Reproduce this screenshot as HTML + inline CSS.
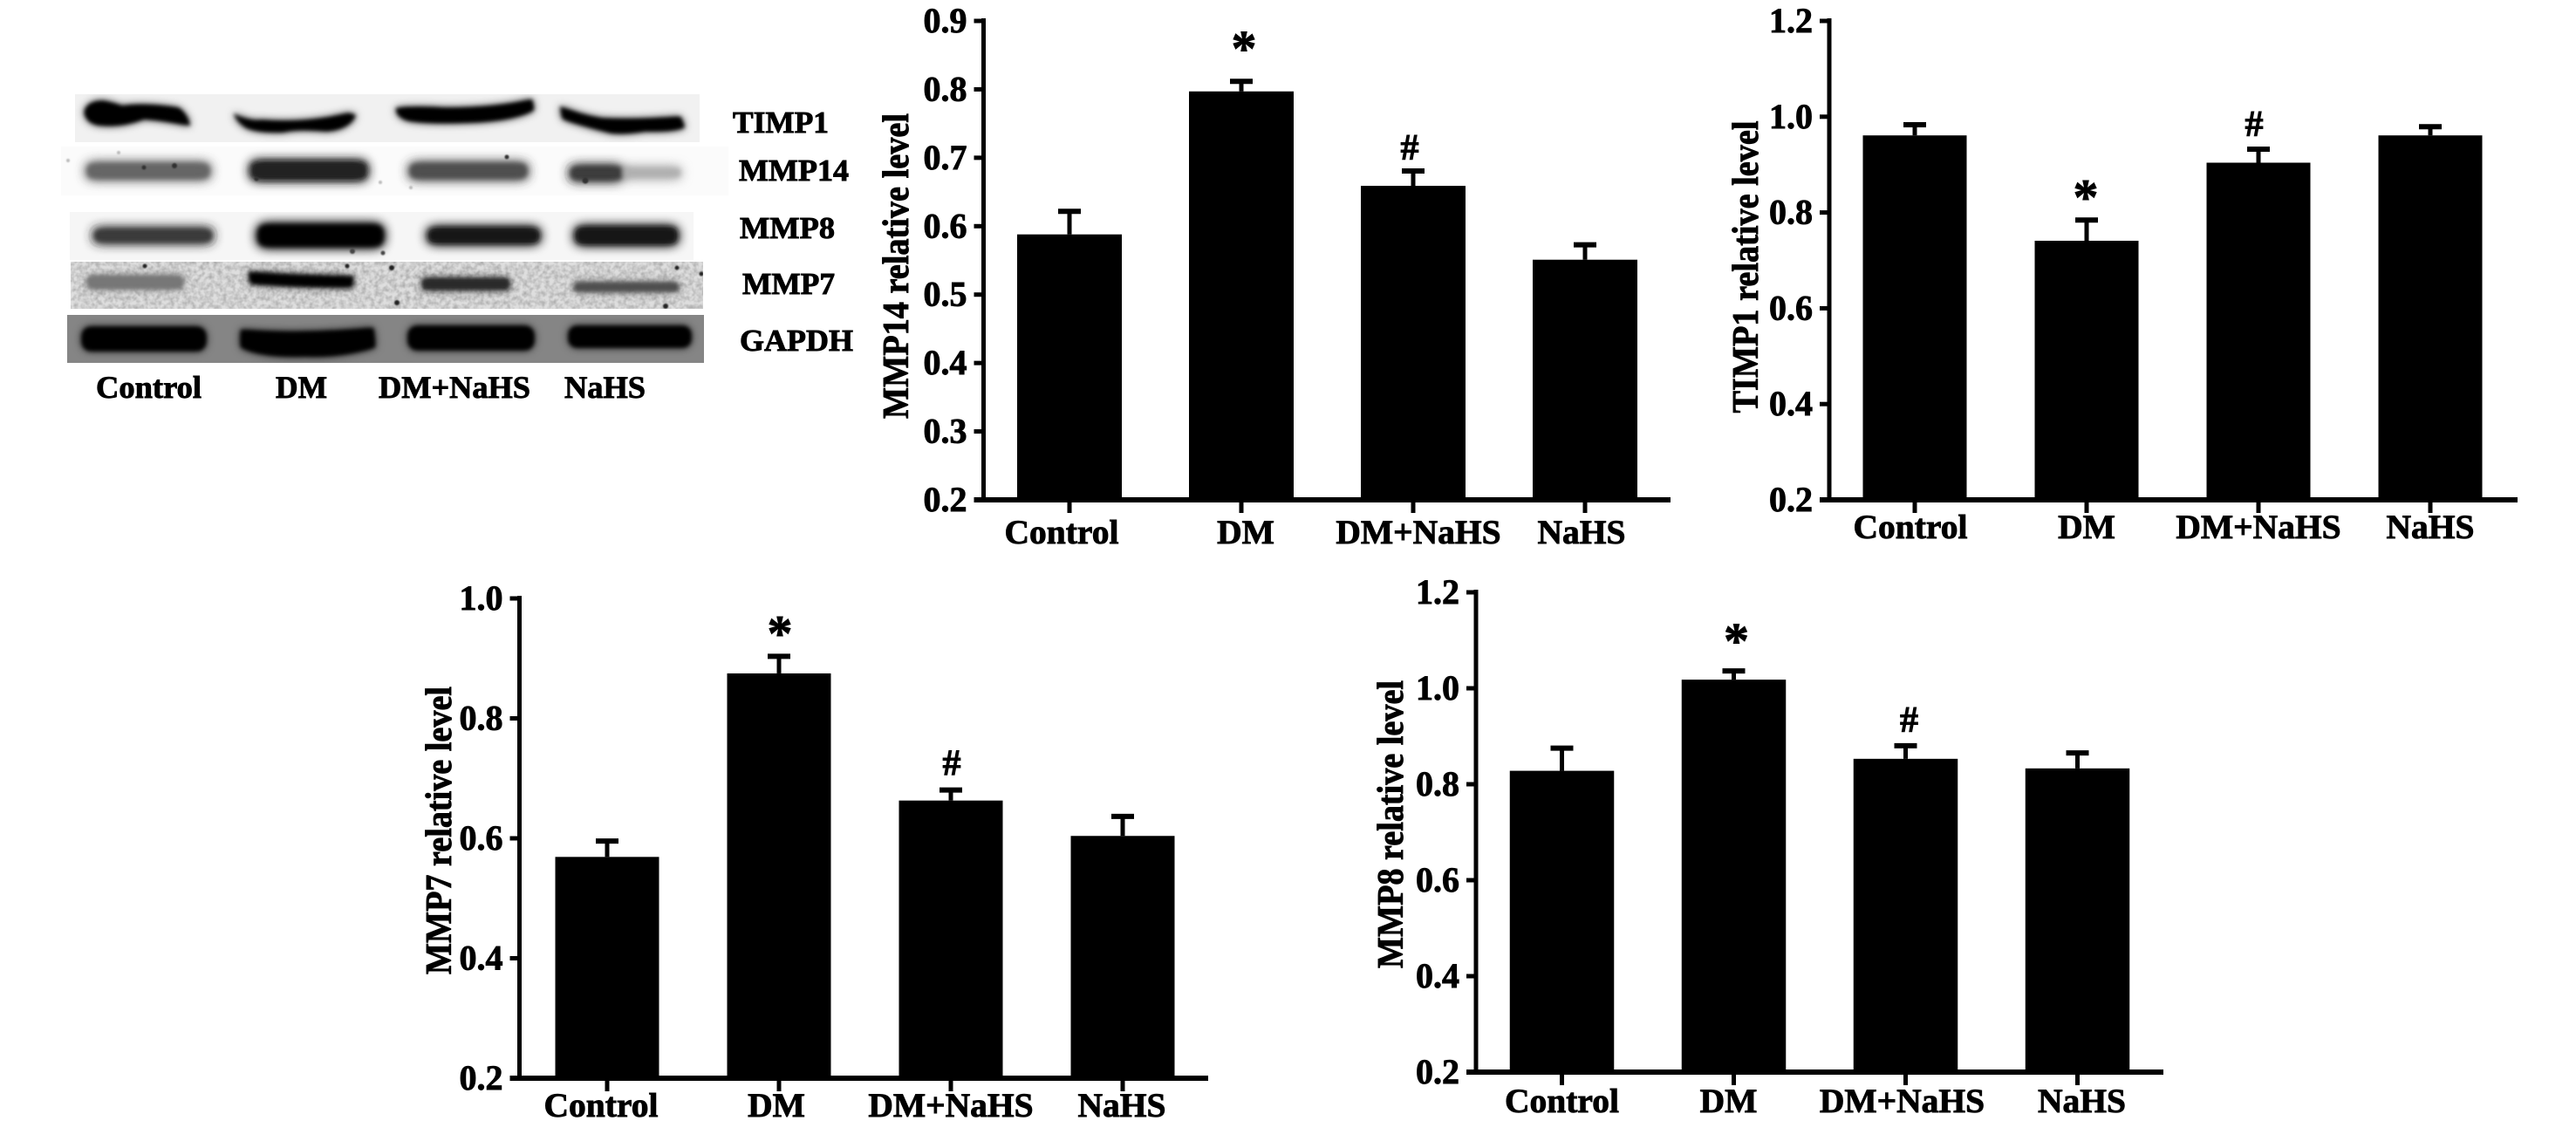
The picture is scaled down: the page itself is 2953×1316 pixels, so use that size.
<!DOCTYPE html>
<html lang="en">
<head>
<meta charset="utf-8">
<title>Western blot and relative protein levels</title>
<style>
html,body{margin:0;padding:0;background:#fff;}
svg{display:block;}
text{font-family:"Liberation Serif",serif;font-weight:bold;fill:#000;stroke:#000;stroke-width:0.9px;}
</style>
</head>
<body>
<svg id="figure" xmlns="http://www.w3.org/2000/svg" width="2953" height="1316" viewBox="0 0 2953 1316">
<defs>
<filter id="band" x="-20%" y="-100%" width="140%" height="300%">
<feGaussianBlur in="SourceGraphic" stdDeviation="7" result="wide"/>
<feGaussianBlur in="SourceGraphic" stdDeviation="3" result="tight"/>
<feMerge><feMergeNode in="wide"/><feMergeNode in="wide"/><feMergeNode in="tight"/></feMerge>
</filter>
<filter id="band-soft" x="-20%" y="-100%" width="140%" height="300%">
<feGaussianBlur in="SourceGraphic" stdDeviation="5" result="wide"/>
<feGaussianBlur in="SourceGraphic" stdDeviation="2.5" result="tight"/>
<feMerge><feMergeNode in="wide"/><feMergeNode in="tight"/></feMerge>
</filter>
<filter id="speck" x="-100%" y="-100%" width="300%" height="300%"><feGaussianBlur stdDeviation="0.9"/></filter>
<filter id="noise" x="0" y="0" width="100%" height="100%">
<feTurbulence type="fractalNoise" baseFrequency="0.2" numOctaves="2" seed="7"/>
<feColorMatrix type="matrix" values="0 0 0 0 0.4  0 0 0 0 0.4  0 0 0 0 0.4  0 0 0 1.7 -0.55"/>
</filter>
<clipPath id="clip-timp1"><rect x="86" y="108" width="716" height="55"/></clipPath>
<clipPath id="clip-mmp14"><rect x="70" y="168" width="765" height="56"/></clipPath>
<clipPath id="clip-mmp8"><rect x="80" y="243" width="715" height="55"/></clipPath>
<clipPath id="clip-mmp7"><rect x="81" y="300" width="725" height="54"/></clipPath>
<clipPath id="clip-gapdh"><rect x="77" y="361" width="730" height="55"/></clipPath>
</defs>

<g>
  <g clip-path="url(#clip-timp1)">
    <rect x="86" y="108" width="716" height="55" fill="#f1f1f1"/>
    <g filter="url(#band-soft)" fill="#050505">
      <path d="M97 128 Q100 116 118 116 Q130 118 140 122 Q165 118 205 124 Q215 132 218 144 Q190 138 165 136 Q140 146 112 143 Q98 140 97 128Z"/>
      <path d="M268 130 Q285 140 300 138 Q350 142 400 130 L408 132 Q400 148 375 150 Q340 147 325 151 Q295 152 282 146 Q270 138 268 130Z"/>
      <path d="M454 124 Q480 122 510 124 Q570 124 610 114 L612 126 Q590 138 540 140 Q490 142 468 138 Q454 134 454 124Z"/>
      <path d="M642 122 Q665 132 690 136 Q730 138 780 134 L785 146 Q770 151 740 150 Q715 154 700 152 Q660 142 645 136Z"/>
    </g>
  </g>
  <g clip-path="url(#clip-mmp14)">
    <rect x="70" y="168" width="765" height="56" fill="#fbfbfb"/>
    <g filter="url(#band)">
      <rect x="100" y="188" width="140" height="16" rx="6" fill="#666"/>
      <rect x="288" y="186" width="132" height="19" rx="6" fill="#222"/>
      <rect x="470" y="188" width="134" height="16" rx="6" fill="#505050"/>
      <rect x="654" y="191" width="60" height="15" rx="6" fill="#3c3c3c"/>
      <rect x="714" y="193" width="66" height="10" rx="4" fill="#b0b0b0"/>
    </g>
    <g fill="#333" filter="url(#speck)"><circle cx="200" cy="190" r="3"/><circle cx="165" cy="192" r="2.5"/><circle cx="294" cy="205" r="2.5"/><circle cx="581" cy="180" r="2.5"/><circle cx="671" cy="207" r="3.5"/></g>
    <g fill="#bbb" filter="url(#speck)"><circle cx="78" cy="184" r="2"/><circle cx="136" cy="175" r="2"/><circle cx="436" cy="209" r="2"/><circle cx="471" cy="215" r="2"/></g>
  </g>
  <g clip-path="url(#clip-mmp8)">
    <rect x="80" y="243" width="715" height="55" fill="#f6f6f6"/>
    <g filter="url(#band)">
      <rect x="108" y="263" width="135" height="14" rx="6" fill="#3a3a3a"/>
      <rect x="296" y="258" width="143" height="24" rx="8" fill="#000"/>
      <rect x="491" y="262" width="127" height="16" rx="6" fill="#151515"/>
      <rect x="660" y="261" width="116" height="18" rx="6" fill="#151515"/>
    </g>
    <g fill="#444" filter="url(#speck)"><circle cx="404" cy="288" r="3"/><circle cx="439" cy="290" r="2.5"/></g>
  </g>
  <g clip-path="url(#clip-mmp7)">
    <rect x="81" y="300" width="725" height="54" fill="#dedede"/>
    <rect x="81" y="300" width="725" height="54" filter="url(#noise)"/>
    <g filter="url(#band-soft)">
      <rect x="100" y="316" width="110" height="15" rx="5" fill="#777"/>
      <path d="M285 312 Q340 316 405 317 L404 329 Q340 329 287 325Z" fill="#000"/>
      <rect x="484" y="319" width="100" height="13" rx="4" fill="#2a2a2a"/>
      <rect x="658" y="324" width="120" height="10" rx="4" fill="#505050"/>
    </g>
    <g fill="#222" filter="url(#speck)"><circle cx="166" cy="305" r="2.5"/><circle cx="449" cy="307" r="3"/><circle cx="455" cy="347" r="3"/><circle cx="398" cy="305" r="2.5"/><circle cx="776" cy="307" r="2.5"/><circle cx="763" cy="351" r="3"/><circle cx="804" cy="314" r="2.5"/></g>
  </g>
  <g clip-path="url(#clip-gapdh)">
    <rect x="77" y="361" width="730" height="55" fill="#858585"/>
    <g filter="url(#band-soft)" fill="#000">
      <rect x="94" y="375" width="142" height="27" rx="10"/>
      <path d="M276 378 Q340 384 428 376 L430 398 Q390 410 350 408 Q300 410 276 398Z"/>
      <rect x="468" y="374" width="144" height="27" rx="10"/>
      <rect x="652" y="374" width="140" height="24" rx="9"/>
    </g>
  </g>
  <text x="840" y="152" font-size="35" textLength="110" lengthAdjust="spacingAndGlyphs">TIMP1</text>
  <text x="847" y="207" font-size="35" textLength="126" lengthAdjust="spacingAndGlyphs">MMP14</text>
  <text x="848" y="273" font-size="35" textLength="109" lengthAdjust="spacingAndGlyphs">MMP8</text>
  <text x="851" y="337" font-size="35" textLength="106" lengthAdjust="spacingAndGlyphs">MMP7</text>
  <text x="848" y="402" font-size="35" textLength="130" lengthAdjust="spacingAndGlyphs">GAPDH</text>
  <text x="110" y="456" font-size="36" textLength="121" lengthAdjust="spacingAndGlyphs">Control</text>
  <text x="316" y="456" font-size="36" textLength="59" lengthAdjust="spacingAndGlyphs">DM</text>
  <text x="434" y="456" font-size="36" textLength="174" lengthAdjust="spacingAndGlyphs">DM+NaHS</text>
  <text x="647" y="456" font-size="36" textLength="93" lengthAdjust="spacingAndGlyphs">NaHS</text>
</g>

<g id="chart-mmp14"></g>
<g id="chart-timp1"></g>
<g id="chart-mmp7"></g>
<g id="chart-mmp8"></g>
</svg>

<script>
const categories = ['Control', 'DM', 'DM+NaHS', 'NaHS'];
const annotations = ['', '*', '#', ''];

const mmp14Values = [0.588, 0.797, 0.659, 0.551];
const mmp14ErrorTops = [0.623, 0.813, 0.682, 0.574];
const mmp14Ticks = [0.2, 0.3, 0.4, 0.5, 0.6, 0.7, 0.8, 0.9];

const timp1Values = [0.961, 0.741, 0.904, 0.961];
const timp1ErrorTops = [0.985, 0.786, 0.934, 0.981];
const timp1Ticks = [0.2, 0.4, 0.6, 0.8, 1.0, 1.2];

const mmp7Values = [0.569, 0.875, 0.663, 0.604];
const mmp7ErrorTops = [0.597, 0.905, 0.682, 0.638];
const mmp7Ticks = [0.2, 0.4, 0.6, 0.8, 1.0];

const mmp8Values = [0.828, 1.018, 0.853, 0.833];
const mmp8ErrorTops = [0.877, 1.038, 0.882, 0.867];
const mmp8Ticks = [0.2, 0.4, 0.6, 0.8, 1.0, 1.2];

const SVG_NS = 'http://www.w3.org/2000/svg';

function make(parent, tag, attrs, text) {
  const el = document.createElementNS(SVG_NS, tag);
  for (const k in attrs) el.setAttribute(k, attrs[k]);
  if (text !== undefined) el.textContent = text;
  parent.appendChild(el);
  return el;
}

function drawChart(p) {
  const root = document.getElementById(p.id);
  const lo = p.ticks[0];
  const hi = p.ticks[p.ticks.length - 1];
  const y = function (v) { return p.baseY + (v - lo) * (p.topY - p.baseY) / (hi - lo); };
  const x = function (i) { return p.firstX + i * p.stepX; };

  categories.forEach(function (cat, i) {
    const bar = make(root, 'rect', {
      x: x(i) - p.barW / 2,
      y: y(p.values[i]),
      width: p.barW,
      height: p.baseY - y(p.values[i]),
      fill: '#000'
    });
    
    

    const stem = make(root, 'line', {
      x1: x(i), x2: x(i),
      y1: y(p.values[i]), y2: y(p.errors[i]),
      stroke: '#000', 'stroke-width': 5
    });
    
    

    const cap = make(root, 'line', {
      x1: x(i) - 13, x2: x(i) + 13,
      y1: y(p.errors[i]) + 1, y2: y(p.errors[i]) + 1,
      stroke: '#000', 'stroke-width': 6
    });
    
    

    const xTick = make(root, 'line', {
      x1: x(i), x2: x(i),
      y1: p.baseY, y2: p.baseY + 15,
      stroke: '#000', 'stroke-width': 5
    });
    
    

    const xLabel = make(root, 'text', {
      x: x(i) + p.labelShift[i],
      y: p.labelY,
      'font-size': 39.5,
      'text-anchor': 'middle'
    }, cat);
    
    

    if (annotations[i] === '*') {
      const star = make(root, 'text', {
        x: x(i) + p.starShift,
        y: y(p.errors[i]) - p.starGap,
        'font-size': 58,
        'text-anchor': 'middle'
      }, annotations[i]);
      
      
    }
    if (annotations[i] === '#') {
      const hash = make(root, 'text', {
        x: x(i) + p.hashShift,
        y: y(p.errors[i]) - p.hashGap,
        'font-size': 42,
        'text-anchor': 'middle'
      }, annotations[i]);
      
      
    }
  });

  const yAxis = make(root, 'line', {
    x1: p.axisX, x2: p.axisX,
    y1: p.topY - 3, y2: p.baseY + 3,
    stroke: '#000', 'stroke-width': 5
  });
  
  

  const xAxis = make(root, 'line', {
    x1: p.axisX - 11, x2: p.axisEnd,
    y1: p.baseY, y2: p.baseY,
    stroke: '#000', 'stroke-width': 6
  });
  
  

  p.ticks.forEach(function (t) {
    const yTick = make(root, 'line', {
      x1: p.axisX - 11, x2: p.axisX,
      y1: y(t), y2: y(t),
      stroke: '#000', 'stroke-width': 5
    });
    
    

    const yLabel = make(root, 'text', {
      x: p.axisX - 19,
      y: y(t) + 13,
      'font-size': 40,
      'text-anchor': 'end'
    }, t.toFixed(1));
    
    
  });

  const title = make(root, 'text', {
    transform: 'translate(' + p.titleX + ' ' + p.titleY + ') rotate(-90)',
    'font-size': 42,
    'text-anchor': 'middle',
    textLength: p.titleLen,
    lengthAdjust: 'spacingAndGlyphs'
  }, p.title);
  
  
}

drawChart({
  id: 'chart-mmp14', values: mmp14Values, errors: mmp14ErrorTops, ticks: mmp14Ticks,
  title: 'MMP14 relative level',
  axisX: 1127.5, axisEnd: 1915, topY: 24, baseY: 573,
  firstX: 1226, stepX: 197, barW: 120, labelY: 623,
  labelShift: [-9, 5, 6, -4],
  starShift: 3, starGap: 17, hashShift: -4, hashGap: 12,
  titleX: 1041, titleY: 305, titleLen: 350
});
drawChart({
  id: 'chart-timp1', values: timp1Values, errors: timp1ErrorTops, ticks: timp1Ticks,
  title: 'TIMP1 relative level',
  axisX: 2097, axisEnd: 2886, topY: 24, baseY: 573,
  firstX: 2195, stepX: 197, barW: 119, labelY: 617,
  labelShift: [-5, 0, 0, 0],
  starShift: -1, starGap: 6, hashShift: -5, hashGap: 14,
  titleX: 2015, titleY: 306, titleLen: 335
});
drawChart({
  id: 'chart-mmp7', values: mmp7Values, errors: mmp7ErrorTops, ticks: mmp7Ticks,
  title: 'MMP7 relative level',
  axisX: 595.5, axisEnd: 1385, topY: 686, baseY: 1236,
  firstX: 696, stepX: 197, barW: 119, labelY: 1280,
  labelShift: [-7, -3, 0, -1],
  starShift: 1, starGap: 6, hashShift: 1, hashGap: 16,
  titleX: 517, titleY: 952, titleLen: 330
});
drawChart({
  id: 'chart-mmp8', values: mmp8Values, errors: mmp8ErrorTops, ticks: mmp8Ticks,
  title: 'MMP8 relative level',
  axisX: 1692, axisEnd: 2480, topY: 679, baseY: 1229,
  firstX: 1790.5, stepX: 197, barW: 119.5, labelY: 1275,
  labelShift: [0, -6, -4, 5],
  starShift: 3, starGap: 14, hashShift: 4, hashGap: 15,
  titleX: 1608, titleY: 945, titleLen: 330
});
</script>
</body>
</html>
